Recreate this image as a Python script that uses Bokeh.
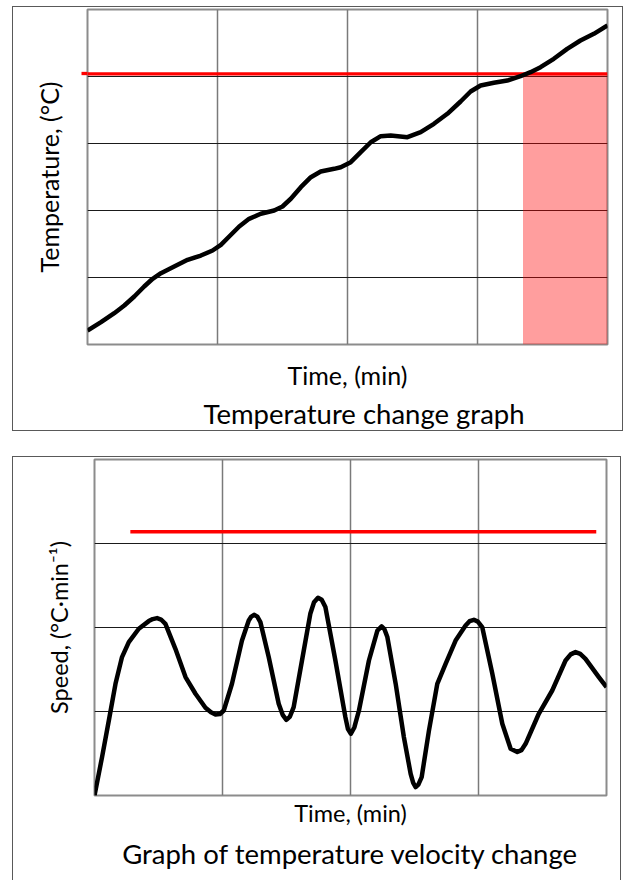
from bokeh.plotting import figure
from bokeh.models import FixedTicker, Title
from bokeh.embed import file_html
from bokeh.resources import INLINE

# ---- Temperature change graph ----
temp_time = [0.0, 1.04, 2.06, 2.83, 3.60, 4.36, 5.01, 5.65, 6.67, 7.70, 8.72, 9.62,
             10.26, 10.90, 11.67, 12.43, 13.33, 14.36, 15.0, 15.64, 16.41, 17.18,
             17.94, 18.97, 19.48, 20.25, 21.02, 21.79, 22.56, 23.32, 24.61, 25.63,
             26.65, 27.68, 28.70, 29.47, 30.24, 31.26, 32.29, 33.31, 34.08, 34.85,
             35.87, 36.90, 37.92, 38.95, 40.0]
temp_value = [2.09, 3.33, 4.67, 5.82, 7.16, 8.66, 9.81, 10.64, 11.64, 12.64, 13.28, 14.03,
              14.88, 16.12, 17.61, 18.76, 19.51, 20.0, 20.6, 21.75, 23.48, 24.97,
              25.82, 26.22, 26.46, 27.21, 28.70, 30.19, 31.09, 31.19, 30.94, 31.69,
              32.94, 34.43, 36.27, 37.76, 38.66, 39.06, 39.40, 40.04, 40.64, 41.39,
              42.64, 44.13, 45.37, 46.37, 47.61]
temp_limit = 40.4
overheat_start = 33.5
temp_grid_x = [10, 20, 30]
temp_grid_y = [10, 20, 30, 40]

# ---- Graph of temperature velocity change ----
speed_time = [0.0, 0.59, 1.12, 1.64, 2.15, 2.68, 3.46, 4.24, 4.55, 4.89, 5.2, 5.54, 6.32,
              7.11, 7.89, 8.67, 9.1, 9.45, 9.8, 10.10, 10.74, 11.52, 12.05, 12.25, 12.49,
              12.72, 12.96, 13.61, 14.39, 14.7, 14.99, 15.27, 15.56, 16.21, 16.86, 17.15,
              17.46, 17.75, 18.04, 18.82, 19.60, 19.8, 20.03, 20.3, 20.66, 21.44, 22.10,
              22.43, 22.65, 22.88, 23.53, 24.17, 24.70, 24.9, 25.09, 25.3, 25.56, 26.13,
              26.78, 27.43, 28.21, 28.99, 29.3, 29.64, 29.95, 30.29, 31.08, 31.86, 32.51,
              33.03, 33.35, 33.68, 34.71, 35.76, 36.80, 37.2, 37.58, 37.95, 38.36, 39.40,
              40.0]
speed_value = [0.0, 4.57, 8.93, 13.30, 16.48, 18.26, 19.85, 20.76, 21.0, 21.12, 20.95, 20.44,
               17.46, 14.10, 12.11, 10.44, 9.9, 9.64, 9.7, 10.12, 13.30, 18.45, 20.83, 21.3,
               21.51, 21.3, 20.64, 16.48, 10.92, 9.6, 9.01, 9.4, 10.52, 16.07, 21.63, 23.0,
               23.54, 23.3, 22.43, 16.07, 9.33, 7.9, 7.35, 8.1, 10.12, 16.07, 19.64,
               20.12, 19.8, 18.86, 13.30, 6.95, 2.58, 1.5, 1.00, 1.3, 2.19, 7.74,
               13.30, 15.68, 18.45, 20.24, 20.75, 20.92, 20.7, 20.05, 14.49, 8.54, 5.56,
               5.17, 5.4, 6.15, 9.73, 12.50, 16.07, 16.8, 17.07, 16.85, 16.27, 14.10,
               12.90]
speed_limit = 31.4
speed_limit_span = [2.8, 39.2]
speed_grid_x = [10, 20, 30]
speed_grid_y = [10, 20, 30]

FONT = "Lato"


def style(p, xlabel, ylabel, gx, gy, title, axis_size, xstand, ystand, tstand, title_kw):
    p.outline_line_color = "#8c8c8c"
    p.outline_line_width = 2
    p.xaxis.ticker = FixedTicker(ticks=[])
    p.yaxis.ticker = FixedTicker(ticks=[])
    p.xgrid.ticker = FixedTicker(ticks=gx)
    p.ygrid.ticker = FixedTicker(ticks=gy)
    p.xgrid.grid_line_color = "#7a7a7a"
    p.xgrid.grid_line_width = 1.5
    p.ygrid.grid_line_color = "#1a1a1a"
    p.ygrid.grid_line_width = 1
    for ax in (p.xaxis[0], p.yaxis[0]):
        ax.axis_line_color = None
        ax.major_tick_line_color = None
        ax.minor_tick_line_color = None
        ax.axis_label_text_font = FONT
        ax.axis_label_text_font_style = "normal"
        ax.axis_label_text_color = "black"
        ax.axis_label_text_font_size = axis_size
    p.xaxis.axis_label = xlabel
    p.yaxis.axis_label = ylabel
    p.xaxis.axis_label_standoff = xstand
    p.yaxis.axis_label_standoff = ystand
    p.add_layout(Title(text=title, text_font=FONT, text_font_style="normal",
                       text_font_size="27.5px", text_color="black", standoff=tstand,
                       **title_kw), "below")


# top chart: boxed panel, canvas at page (13, 7)
p1 = figure(width=611, height=425, x_range=(0, 40), y_range=(0, 50),
            output_backend="svg", toolbar_location=None,
            min_border_left=74, min_border_right=17, min_border_top=2, min_border_bottom=88,
            styles={"border": "1px solid #595959", "margin-left": "12px",
                    "margin-top": "6px"})
style(p1, "Time, (min)", "Temperature, (°C)", temp_grid_x, temp_grid_y,
      "Temperature change graph", "25px", 15, 18, 4, dict(align="left", offset=116))
# the limit line pokes out left of the frame: a single red outward tick on the y axis
p1.yaxis.ticker = FixedTicker(ticks=[temp_limit])
p1.yaxis.major_tick_line_color = "#ff0000"
p1.yaxis.major_tick_line_width = 3.3
p1.yaxis.major_tick_out = 6
p1.yaxis.major_tick_in = 0
p1.yaxis.major_label_text_color = None
p1.yaxis.major_label_text_font_size = "1px"
p1.yaxis.major_label_standoff = 0
p1.quad(left=[overheat_start], right=[temp_time[-1]], bottom=[0], top=[temp_limit],
        fill_color="#ff0000", fill_alpha=0.38, line_color=None)
p1.line([0, temp_time[-1]], [temp_limit, temp_limit], line_color="#ff0000", line_width=3.3)
p1.line(temp_time, temp_value, line_color="black", line_width=4.5, line_join="round")

# bottom chart: boxed panel (open at the bottom), canvas at page (13, 459)
p2 = figure(width=609, height=424, x_range=(0, 40), y_range=(0, 40),
            output_backend="svg", toolbar_location=None,
            min_border_left=81, min_border_right=16, min_border_top=2, min_border_bottom=86,
            styles={"border": "1px solid #595959", "border-bottom": "none",
                    "margin-left": "12px", "margin-top": "25px"})
style(p2, "Time, (min)", "Speed, (°C·min⁻¹)", speed_grid_x, speed_grid_y,
      "Graph of temperature velocity change", "23.5px", 3, 22, 10, dict(align="center"))
p2.line(speed_limit_span, [speed_limit, speed_limit], line_color="#ff0000", line_width=3.5)
p2.line(speed_time, speed_value, line_color="black", line_width=4.5, line_join="round")

open("out.html", "w").write(file_html([p1, p2], INLINE))
